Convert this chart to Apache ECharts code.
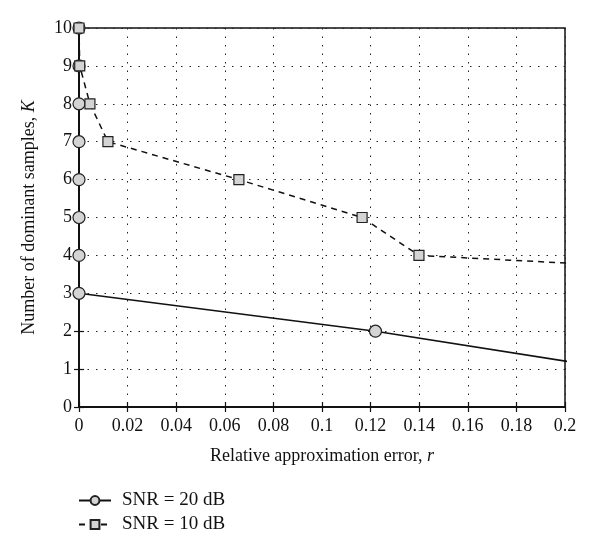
<!DOCTYPE html>
<html><head><meta charset="utf-8">
<script src="https://cdn.jsdelivr.net/npm/echarts@6/dist/echarts.min.js"></script>
<style>html,body{margin:0;padding:0;background:#fff}#c{width:600px;height:552px}</style>
</head><body><div id="c"></div>
<script>
// Data
const snr20_r = [0, 0, 0, 0, 0, 0, 0, 0, 0.122, 0.221];
const snr20_K = [10, 9, 8, 7, 6, 5, 4, 3, 2, 1];
const snr10_r = [0, 0.0003, 0.0045, 0.0119, 0.0658, 0.1165, 0.1399, 0.44];
const snr10_K = [10, 9, 8, 7, 6, 5, 4, 3];
const xTicks = [0, 0.02, 0.04, 0.06, 0.08, 0.1, 0.12, 0.14, 0.16, 0.18, 0.2];
const yTicks = [0,1,2,3,4,5,6,7,8,9,10];
const seriesNames = ['SNR = 20 dB', 'SNR = 10 dB'];

const font = '"Liberation Serif", "DejaVu Serif", serif';
const chart = echarts.init(document.getElementById('c'));
const pairs = (a, b) => a.map((v, i) => [v, b[i]]);
const gridLine = {show: true, lineStyle: {color: '#222', type: [1.5, 7], width: 1}};
const tick = {show: true, inside: true, length: 5, lineStyle: {color: '#111', width: 1.2}};
chart.setOption({
  animation: false,
  grid: {left: 79, right: 35, top: 28, bottom: 145, show: true, borderColor: '#111', borderWidth: 1.5, backgroundColor: 'transparent'},
  xAxis: [{
    type: 'value', min: 0, max: 0.2, interval: 0.02,
    axisLine: {show: true, onZero: false, lineStyle: {color: '#111', width: 1.5}},
    axisTick: tick,
    axisLabel: {color: '#111', fontFamily: font, fontSize: 18, margin: 10,
      formatter: v => { const t = xTicks.find(x => Math.abs(x - v) < 1e-9); return t === undefined ? '' : String(+t.toFixed(2)); }},
    splitLine: gridLine,
    name: '{n|Relative approximation error, }{i|r}', nameLocation: 'middle', nameGap: 40,
    nameTextStyle: {rich: {n: {fontFamily: font, fontSize: 18, color: '#111'}, i: {fontFamily: font, fontSize: 18, fontStyle: 'italic', color: '#111'}}}
  }, {
    type: 'value', min: 0, max: 0.2, interval: 0.02, position: 'top',
    axisLine: {show: true, lineStyle: {color: '#111', width: 1.5}},
    axisTick: tick, axisLabel: {show: false}, splitLine: {show: false}
  }],
  yAxis: [{
    type: 'value', min: 0, max: 10, interval: 1,
    axisLine: {show: true, onZero: false, lineStyle: {color: '#111', width: 1.5}},
    axisTick: tick,
    axisLabel: {color: '#111', fontFamily: font, fontSize: 18, margin: 7,
      formatter: v => yTicks.includes(v) ? String(v) : ''},
    splitLine: gridLine,
    name: '{n|Number of dominant samples, }{i|K}', nameLocation: 'middle', nameGap: 41, nameRotate: 90,
    nameTextStyle: {rich: {n: {fontFamily: font, fontSize: 18, color: '#111'}, i: {fontFamily: font, fontSize: 18, fontStyle: 'italic', color: '#111'}}}
  }, {
    type: 'value', min: 0, max: 10, interval: 1, position: 'right',
    axisLine: {show: true, lineStyle: {color: '#111', width: 1.5}},
    axisTick: tick, axisLabel: {show: false}, splitLine: {show: false}
  }],
  legend: {
    orient: 'vertical', left: 73, top: 486, itemGap: 5, itemWidth: 32, itemHeight: 11,
    textStyle: {fontFamily: font, fontSize: 19, color: '#111', padding: [0, 0, 0, 6]},
    data: seriesNames
  },
  series: [{
    name: seriesNames[0], type: 'line', data: pairs(snr20_r, snr20_K), clip: true,
    symbol: 'circle', symbolSize: 12,
    lineStyle: {color: '#111', width: 1.5},
    itemStyle: {color: '#d4d4d4', borderColor: '#222', borderWidth: 1.2}
  }, {
    name: seriesNames[1], type: 'line', data: pairs(snr10_r, snr10_K), clip: true,
    symbol: 'rect', symbolSize: 10,
    lineStyle: {color: '#111', width: 1.5, type: [6, 5]},
    itemStyle: {color: '#d4d4d4', borderColor: '#222', borderWidth: 1.2}
  }]
});
</script></body></html>
